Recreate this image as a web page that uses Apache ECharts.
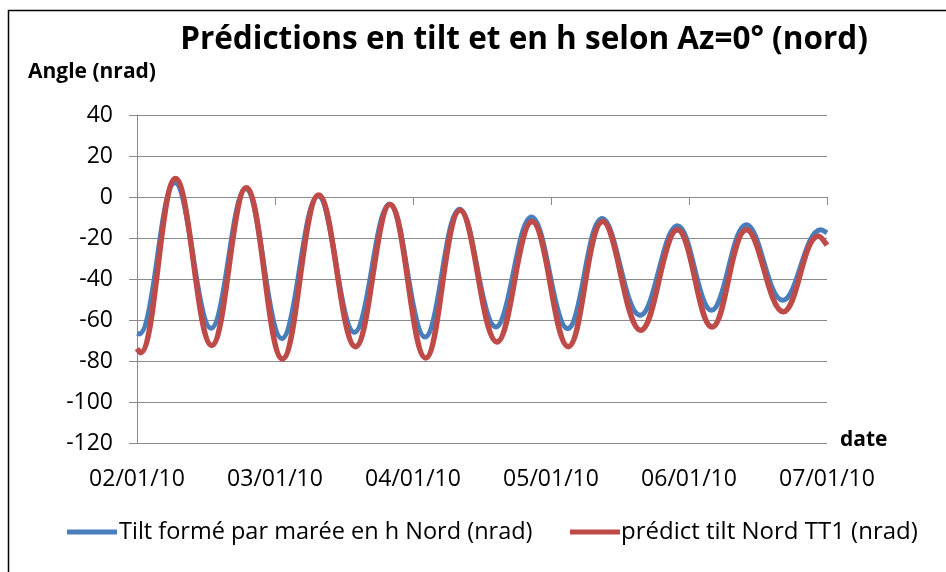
<!DOCTYPE html>
<html><head><meta charset="utf-8">
<script src="https://cdn.jsdelivr.net/npm/echarts@6/dist/echarts.min.js"></script>
<style>html,body{margin:0;padding:0;background:#fff}#c{width:946px;height:572px}</style>
</head><body><div id="c"></div>
<script>
const titleText = 'Prédictions en tilt et en h selon Az=0° (nord)';
const yAxisName = 'Angle (nrad)';
const xAxisName = 'date';
const dateLabels = ['02/01/10', '03/01/10', '04/01/10', '05/01/10', '06/01/10', '07/01/10'];
const seriesNames = ['Tilt formé par marée en h Nord (nrad)', 'prédict tilt Nord TT1 (nrad)'];
// hours since 02/01/10 00:00
const blueHours  = [0, 0.4, 6.6, 12.9, 18.9, 25.2, 31.5, 37.8, 43.9, 50.1, 56.1, 62.4, 68.6, 74.9, 80.9, 87.5, 94.0, 99.9, 106.0, 112.3, 118.9, 120];
const blueValues = [-66.5, -66.8, 7, -64, 4, -69, 0.5, -66, -3.5, -68.3, -6, -63.4, -9.8, -64.2, -10.5, -57.7, -14, -55.3, -13.5, -50.4, -16, -17.5];
const redHours   = [0, 0.6, 6.7, 13.0, 19.0, 25.3, 31.6, 38.0, 44.0, 50.2, 56.2, 62.6, 68.7, 75.0, 81.0, 87.6, 94.0, 100.0, 106.0, 112.4, 118.5, 120];
const redValues  = [-74, -76, 9, -72.4, 4.5, -79, 1, -73, -3.6, -78.5, -6.5, -70.7, -12, -73, -12, -65, -16, -63.4, -16, -56, -19, -23.5];

const FONT = '"Open Sans", "Noto Sans", sans-serif';
const chart = echarts.init(document.getElementById('c'), null, {renderer: 'canvas'});
const zip = (h, v) => h.map((x, i) => [x, v[i]]);
const gridCol = '#8a8a8a';

chart.setOption({
  animation: false,
  backgroundColor: '#fff',
  grid: {left: 137, right: 119, top: 115, bottom: 129, containLabel: false},
  graphic: [
    {type: 'rect', shape: {x: 8.5, y: 10.5, width: 2000, height: 2000}, style: {fill: 'none', stroke: '#000', lineWidth: 1.5}, silent: true},
    {type: 'text', x: 524, y: 40, style: {text: titleText, font: 'bold 31.5px ' + FONT, fill: '#000', textAlign: 'center', textVerticalAlign: 'middle'}},
    {type: 'text', x: 28, y: 72, style: {text: yAxisName, font: 'bold 21px ' + FONT, fill: '#000', textAlign: 'left', textVerticalAlign: 'middle'}},
    {type: 'text', x: 840, y: 440, style: {text: xAxisName, font: 'bold 21px ' + FONT, fill: '#000', textAlign: 'left', textVerticalAlign: 'middle'}}
  ],
  legend: [
    {data: [seriesNames[0]], left: 62, top: 515, icon: 'rect', itemWidth: 50, itemHeight: 5, textStyle: {fontFamily: FONT, fontSize: 23.5, color: '#000', padding: [0, 0, 0, -3]}},
    {data: [seriesNames[1]], left: 565, top: 515, icon: 'rect', itemWidth: 50, itemHeight: 5, textStyle: {fontFamily: FONT, fontSize: 24, color: '#000', padding: [0, 0, 0, -4]}}
  ],
  xAxis: [
    {type: 'value', min: 0, max: 120, interval: 24, position: 'top',
     axisLine: {show: true, onZero: true, lineStyle: {color: gridCol, width: 1}},
     axisTick: {show: true, inside: true, length: 8, lineStyle: {color: gridCol}},
     axisLabel: {show: false}, splitLine: {show: false}},
    {type: 'value', min: 0, max: 120, interval: 24, position: 'bottom',
     axisLine: {show: false, onZero: false}, axisTick: {show: false}, splitLine: {show: false},
     axisLabel: {show: true, margin: 25, fontFamily: FONT, fontSize: 23, color: '#000',
       formatter: v => dateLabels[Math.round(v / 24)]}}
  ],
  yAxis: {type: 'value', min: -120, max: 40, interval: 20,
    axisLine: {show: true, lineStyle: {color: gridCol, width: 1}},
    axisTick: {show: true, length: 8, lineStyle: {color: gridCol}},
    axisLabel: {margin: 24, fontFamily: FONT, fontSize: 23, color: '#000'},
    splitLine: {show: true, lineStyle: {color: gridCol, width: 1}}},
  series: [
    {name: seriesNames[0], type: 'line', xAxisIndex: 0, data: zip(blueHours, blueValues), smooth: 0.4, symbol: 'none',
     color: '#4A7EBB', lineStyle: {width: 5, color: '#4A7EBB'}, z: 3},
    {name: seriesNames[1], type: 'line', xAxisIndex: 0, data: zip(redHours, redValues), smooth: 0.4, symbol: 'none',
     color: '#BE4B48', lineStyle: {width: 5.5, color: '#BE4B48'}, z: 4}
  ]
});
</script></body></html>
